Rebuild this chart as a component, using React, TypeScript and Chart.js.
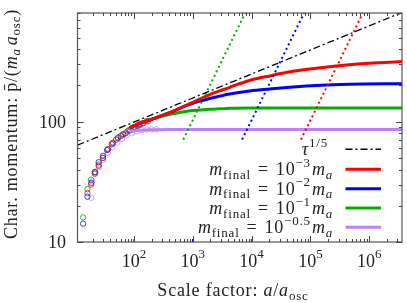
import React, { useEffect, useRef } from "react";
import { Chart, registerables } from "chart.js";
Chart.register(...registerables);

// ---------- axis ranges & ticks ----------
const xMin = 11;
const xMax = 3.6e6;
const yMin = 10;
const yMax = 800;
const xTickExponents = [2, 3, 4, 5, 6];
const yTickValues = [10, 100];
const yTickLabels = ["10", "100"];

// ---------- tau^(1/5) reference ----------
const tauX = [11, 3.6e6];
const tauY = [63.8, 808];

// ---------- solid curves ----------
const redX = [85, 126, 187, 276, 408, 602, 890, 1310, 1940, 2870, 4240, 9240, 20200, 50000, 125000, 457000, 1.5e6, 3.6e6];
const redY = [89, 97, 103, 111, 119, 129, 141, 154, 168, 180, 193, 220, 240, 262, 278, 297, 309, 316];
const blueX = [85, 126, 187, 276, 408, 602, 890, 1310, 1940, 2870, 4240, 9240, 20200, 50000, 125000, 457000, 3.6e6];
const blueY = [89, 97, 103, 111, 119, 129, 139, 148, 156, 163, 170, 180, 187, 194, 200, 205, 207];
const greenX = [85, 126, 187, 276, 408, 602, 890, 1310, 1940, 2870, 4240, 9240, 50000, 3.6e6];
const greenY = [89, 97, 104, 110, 115, 119, 123, 125, 127, 128, 129, 130, 130, 130];
const purpleX = [85, 126, 187, 408, 3.6e6];
const purpleY = [83, 85, 85.5, 86, 86];

// ---------- circles (simulation points) ----------
const redCircX = [16.2, 18.7, 21.6, 25.2, 29.8, 36.2, 44, 53.6, 65, 78, 95, 115, 140, 165];
const redCircY = [25.5, 30, 37, 43, 50, 59, 66, 73, 78, 83, 88, 93, 97, 101];
const blueCircX = [13.7, 16.2, 18.9, 22, 25.2, 29.8, 35, 42, 50, 60, 72, 87, 105, 127];
const blueCircY = [14.2, 23.8, 31, 38, 46, 52, 58, 65, 71, 76, 80, 85, 90, 95];
const greenCircX = [13.7, 16.2, 18.7, 21.6, 25.2, 29.8, 36.2, 44, 53.6, 66, 82, 100, 120, 145, 175];
const greenCircY = [16, 27.5, 33, 38.3, 44, 50, 59, 67, 74, 79, 85, 89, 93, 97, 101];
const purpleCircX = [18.9, 19.5, 22, 25.5, 30, 36, 43, 52, 63, 76, 92, 112, 136, 165, 200, 240];
const purpleCircY = [23.3, 32, 37, 42, 48, 55, 61, 67, 72, 77, 80, 83, 85, 86, 86.5, 86.5];

// ---------- dotted steep lines ----------
const greenDotX = [690, 7800];
const blueDotX = [6900, 78000];
const redDotX = [69000, 780000];
const dotY = [71, 800];

// ---------- colored axis marks ----------
const markX = [100, 1000, 10000];
const markY = [10, 10.6];

const RED = "#ff0000";
const BLUE = "#0000ff";
const GREEN = "#00b000";
const PURPLE = "#bf80ff";

const FONT = '"Liberation Serif", "DejaVu Serif", serif';
const BASE = 18;
const SMALL = 13;

type Seg = { t: string; it?: boolean; s?: number; dy?: number; pre?: number };

function segFont(seg: Seg, base: number) {
  const size = seg.s ?? base;
  return `${seg.it ? "italic " : ""}${size}px ${FONT}`;
}
function richWidth(ctx: CanvasRenderingContext2D, segs: Seg[], base: number) {
  let w = 0;
  for (const s of segs) {
    ctx.font = segFont(s, base);
    w += (s.pre ?? 0) + ctx.measureText(s.t).width;
  }
  return w;
}
function drawRich(
  ctx: CanvasRenderingContext2D,
  segs: Seg[],
  x: number,
  y: number,
  base: number,
  align: "left" | "right" | "center",
  spacing = 0
) {
  (ctx as any).letterSpacing = spacing + "px";
  const w = richWidth(ctx, segs, base);
  let cx = align === "left" ? x : align === "right" ? x - w : x - w / 2;
  ctx.textAlign = "left";
  ctx.textBaseline = "alphabetic";
  for (const s of segs) {
    ctx.font = segFont(s, base);
    cx += s.pre ?? 0;
    ctx.fillText(s.t, cx, y + (s.dy ?? 0));
    cx += ctx.measureText(s.t).width;
  }
  (ctx as any).letterSpacing = "0px";
}

const zip = (xs: number[], ys: number[]) => xs.map((x, i) => ({ x, y: ys[i] }));

const mLabel = (exp: string): Seg[] => [
  { t: "m", it: true },
  { t: "final", s: SMALL, dy: 3.5 },
  { t: "=", pre: 7 },
  { t: "10", pre: 7 },
  { t: exp, s: SMALL, dy: -8.5 },
  { t: "m", it: true, pre: 1 },
  { t: "a", it: true, s: SMALL, dy: 3.5 },
];

const legendRows: { segs: Seg[]; color: string; dash: number[]; width: number; right: number }[] = [
  { segs: [{ t: "τ", it: true }, { t: "1/5", s: SMALL, dy: -8.5 }], color: "#000", dash: [7, 3, 2, 3], width: 1.5, right: 328 },
  { segs: mLabel("−3"), color: RED, dash: [], width: 3, right: 333 },
  { segs: mLabel("−2"), color: BLUE, dash: [], width: 3, right: 333 },
  { segs: mLabel("−1"), color: GREEN, dash: [], width: 3, right: 333 },
  { segs: mLabel("−0.5"), color: PURPLE, dash: [], width: 3, right: 333 },
];
const legendLineY = [149.3, 169.3, 188.7, 208, 227.3];

const decor = {
  id: "decor",
  afterDraw(chart: any) {
    const ctx: CanvasRenderingContext2D = chart.ctx;
    const { left, right, top, bottom } = chart.chartArea;
    const xs = chart.scales.x;
    const ys = chart.scales.y;
    ctx.save();
    // frame
    ctx.strokeStyle = "#555";
    ctx.lineWidth = 1.2;
    ctx.strokeRect(left, top, right - left, bottom - top);
    // ticks
    ctx.lineWidth = 1;
    ctx.strokeStyle = "#444";
    ctx.beginPath();
    for (let k = 1; k <= 7; k++) {
      for (let m = 1; m <= 9; m++) {
        const v = m * Math.pow(10, k);
        if (v < xMin || v > xMax) continue;
        const px = Math.round(xs.getPixelForValue(v)) + 0.5;
        const len = m === 1 ? 6 : 3;
        ctx.moveTo(px, bottom);
        ctx.lineTo(px, bottom - len);
        ctx.moveTo(px, top);
        ctx.lineTo(px, top + len);
      }
    }
    for (let k = 1; k <= 3; k++) {
      for (let m = 1; m <= 9; m++) {
        const v = m * Math.pow(10, k);
        if (v < yMin || v > yMax) continue;
        const py = Math.round(ys.getPixelForValue(v)) + 0.5;
        const len = m === 1 ? 6 : 3;
        ctx.moveTo(left, py);
        ctx.lineTo(left + len, py);
        ctx.moveTo(right, py);
        ctx.lineTo(right - len, py);
      }
    }
    ctx.stroke();

    ctx.fillStyle = "#222";
    // y tick labels
    yTickValues.forEach((v, i) => {
      const py = ys.getPixelForValue(v);
      drawRich(ctx, [{ t: yTickLabels[i] }], 66, py + 6, BASE, "right");
    });
    // x tick labels
    xTickExponents.forEach((e) => {
      const px = xs.getPixelForValue(Math.pow(10, e));
      drawRich(ctx, [{ t: "10" }, { t: String(e), s: SMALL, dy: -8.5 }], px, 266.5, BASE, "center");
    });
    // x title
    drawRich(
      ctx,
      [{ t: "Scale factor: " }, { t: "a", it: true }, { t: "/" }, { t: "a", it: true }, { t: "osc", s: SMALL, dy: 3.5 }],
      233, 296, BASE, "center", 0.8
    );
    // y title
    ctx.save();
    ctx.translate(16.5, 124);
    ctx.rotate(-Math.PI / 2);
    drawRich(
      ctx,
      [
        { t: "Char. momentum: p\u0304/(" },
        { t: "m", it: true },
        { t: "a", it: true, s: SMALL, dy: 3.5 },
        { t: "a", it: true, pre: 3 },
        { t: "osc", s: SMALL, dy: 3.5 },
        { t: ")" },
      ],
      0, 0, BASE, "center", 0.8
    );
    ctx.restore();

    // legend
    legendRows.forEach((row, i) => {
      const ly = legendLineY[i];
      ctx.fillStyle = "#222";
      drawRich(ctx, row.segs, row.right, ly + 6, BASE, "right", 0.8);
      ctx.beginPath();
      ctx.setLineDash(row.dash);
      ctx.strokeStyle = row.color;
      ctx.lineWidth = row.width;
      ctx.moveTo(345.5, ly);
      ctx.lineTo(381, ly);
      ctx.stroke();
      ctx.setLineDash([]);
    });
    ctx.restore();
  },
};

export default function App() {
  const ref = useRef<HTMLCanvasElement>(null);
  useEffect(() => {
    document.body.style.margin = "0";
    const lineDs = (label: string, xs: number[], ys: number[], color: string, width: number, dash: number[] = []) => ({
      label,
      data: zip(xs, ys),
      showLine: true,
      borderColor: color,
      backgroundColor: color,
      borderWidth: width,
      borderDash: dash,
      pointRadius: 0,
      tension: 0.3,
      cubicInterpolationMode: "monotone" as const,
    });
    const circDs = (label: string, xs: number[], ys: number[], color: string) => ({
      label,
      data: zip(xs, ys),
      showLine: false,
      borderColor: color,
      backgroundColor: "transparent",
      borderWidth: 1,
      pointRadius: 2.7,
      pointStyle: "circle",
    });
    const marks = [GREEN, BLUE, RED].map((c, i) => ({
      label: "mark" + i,
      data: zip([markX[i], markX[i]], markY),
      showLine: true,
      borderColor: c,
      borderWidth: 1.5,
      pointRadius: 0,
    }));
    const chart = new Chart(ref.current!, {
      type: "scatter",
      data: {
        datasets: [
          lineDs("tau", tauX, tauY, "#000", 1.3, [7, 3, 2, 3]),
          ...marks,
          lineDs("greenDot", greenDotX, dotY, GREEN, 2, [2, 3]),
          lineDs("blueDot", blueDotX, dotY, BLUE, 2, [2, 3]),
          lineDs("redDot", redDotX, dotY, RED, 2, [2, 3]),
          lineDs("red", redX, redY, RED, 3),
          lineDs("blue", blueX, blueY, BLUE, 3),
          lineDs("green", greenX, greenY, GREEN, 3),
          lineDs("purple", purpleX, purpleY, PURPLE, 3),
          circDs("redC", redCircX, redCircY, "rgba(255,0,0,0.75)"),
          circDs("blueC", blueCircX, blueCircY, "rgba(0,0,255,0.75)"),
          circDs("greenC", greenCircX, greenCircY, "rgba(0,160,0,0.75)"),
          circDs("purpleC", purpleCircX, purpleCircY, "rgba(190,130,255,0.75)"),
        ] as any,
      },
      options: {
        animation: false,
        responsive: false,
        devicePixelRatio: 1,
        layout: { padding: { left: 77.5, right: 4, top: 13, bottom: 61 } },
        plugins: { legend: { display: false }, tooltip: { enabled: false } },
        scales: {
          x: { type: "logarithmic", min: xMin, max: xMax, display: false },
          y: { type: "logarithmic", min: yMin, max: yMax, display: false },
        },
      },
      plugins: [decor],
    });
    return () => chart.destroy();
  }, []);
  return (
    <div style={{ position: "fixed", left: 0, top: 0, width: 407, height: 303, background: "#fff" }}>
      <canvas ref={ref} width={407} height={303} style={{ display: "block" }} />
    </div>
  );
}
